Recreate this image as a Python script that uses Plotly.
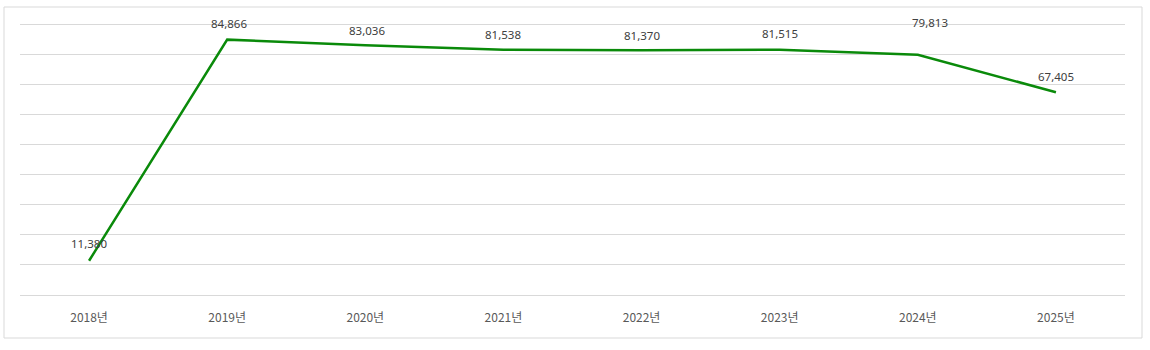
import plotly.graph_objects as go

years = ["2018년", "2019년", "2020년", "2021년", "2022년", "2023년", "2024년", "2025년"]
values = [11380, 84866, 83036, 81538, 81370, 81515, 79813, 67405]
label_yshift = [17, 16, 15, 15, 15, 16, 32, 16]
label_xshift = [0, 2, 2, 0, 0, 0, 12, 0]

W, H = 1150, 350
ML, MR, MT, MB = 20, 25, 23, 55
pw, ph = W - ML - MR, H - MT - MB

fig = go.Figure()
fig.add_trace(go.Scatter(
    x=years, y=values, mode="lines",
    line=dict(color="#0a8a0a", width=2.5),
    hoverinfo="skip", showlegend=False,
))

for i, (x, v) in enumerate(zip(years, values)):
    fig.add_annotation(
        x=x, y=v, text=f"{v:,}", showarrow=False,
        yshift=label_yshift[i], xshift=label_xshift[i],
        font=dict(family="Noto Sans, Noto Sans CJK KR", size=11.5, color="#404040"),
    )

# outer chart border
fig.add_shape(
    type="rect", xref="paper", yref="paper",
    x0=(4 - ML) / pw, x1=(1142 - ML) / pw,
    y0=(H - MB - 338) / ph, y1=(H - MB - 7) / ph,
    line=dict(color="#d9d9d9", width=1), fillcolor="rgba(0,0,0,0)", layer="below",
)

fig.update_layout(
    width=W, height=H,
    margin=dict(l=ML, r=MR, t=MT, b=MB),
    paper_bgcolor="white", plot_bgcolor="white",
    xaxis=dict(
        type="category", range=[-0.5, 7.5],
        showgrid=False, zeroline=False, showline=False, ticks="",
        tickfont=dict(family="Noto Sans CJK KR", size=12, color="#595959"),
        ticklabelstandoff=14,
    ),
    yaxis=dict(
        range=[0, 90400], tickvals=[0, 10000, 20000, 30000, 40000, 50000, 60000, 70000, 80000, 90000],
        showticklabels=False,
        showgrid=True, gridcolor="#d9d9d9", gridwidth=1,
        zeroline=True, zerolinecolor="#d9d9d9", zerolinewidth=1,
        showline=False, ticks="",
    ),
)

fig.write_html("out.html")
